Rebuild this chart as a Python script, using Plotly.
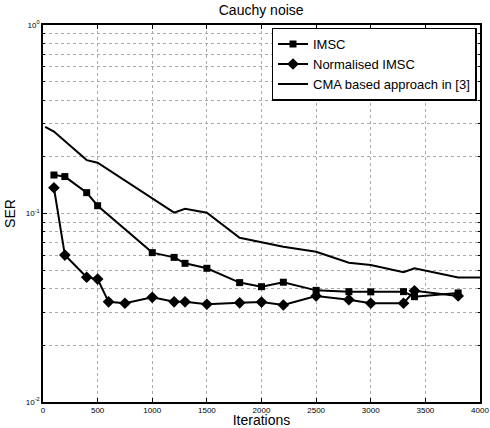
import plotly.graph_objects as go

imsc_x = [100, 200, 400, 500, 1000, 1200, 1300, 1500, 1800, 2000, 2200, 2500, 2800, 3000, 3300, 3400, 3800]
imsc_y = [0.160, 0.157, 0.129, 0.110, 0.0620, 0.0585, 0.0544, 0.0512, 0.0430, 0.0409, 0.0432, 0.0391, 0.0385, 0.0384, 0.0385, 0.0362, 0.0379]

nimsc_x = [100, 200, 400, 500, 600, 750, 1000, 1200, 1300, 1500, 1800, 2000, 2200, 2500, 2800, 3000, 3300, 3400, 3800]
nimsc_y = [0.137, 0.0602, 0.0459, 0.0449, 0.0340, 0.0334, 0.0359, 0.0340, 0.0340, 0.0330, 0.0336, 0.0339, 0.0327, 0.0365, 0.0349, 0.0334, 0.0334, 0.0389, 0.0365]

cma_x = [20, 100, 400, 500, 1200, 1300, 1500, 1800, 2000, 2200, 2500, 2800, 3000, 3300, 3400, 3800, 4000]
cma_y = [0.288, 0.272, 0.192, 0.186, 0.101, 0.106, 0.101, 0.0744, 0.0703, 0.0667, 0.0627, 0.0548, 0.0533, 0.0488, 0.0512, 0.0458, 0.0458]

x_ticks = [0, 500, 1000, 1500, 2000, 2500, 3000, 3500, 4000]
y_major = [0.01, 0.1, 1]
y_major_text = ["10<sup>-2</sup>", "10<sup>-1</sup>", "10<sup>0</sup>"]
y_minor = [m * 10 ** e for e in (-2, -1) for m in range(2, 10)]

fig = go.Figure()
fig.add_trace(go.Scatter(x=imsc_x, y=imsc_y, mode="lines+markers", name="IMSC",
                         line=dict(color="black", width=2),
                         marker=dict(symbol="square", size=7, color="black")))
fig.add_trace(go.Scatter(x=nimsc_x, y=nimsc_y, mode="lines+markers", name="Normalised IMSC",
                         line=dict(color="black", width=2),
                         marker=dict(symbol="diamond", size=9, color="black")))
fig.add_trace(go.Scatter(x=cma_x, y=cma_y, mode="lines", name="CMA based approach in [3]",
                         line=dict(color="black", width=2)))

fig.update_layout(
    width=490, height=428,
    margin=dict(l=43, r=10, t=25, b=26),
    paper_bgcolor="white", plot_bgcolor="white",
    font=dict(family="Liberation Sans, Arial, sans-serif", color="black"),
    title=dict(text="Cauchy noise", x=0.533, xanchor="center", y=0.977, yanchor="middle",
               font=dict(size=14), automargin=False),
    showlegend=True,
    legend=dict(x=0.992, xanchor="right", y=0.993, yanchor="top",
                bgcolor="white", bordercolor="black", borderwidth=1.5,
                font=dict(size=13), tracegroupgap=0, itemwidth=30,
                traceorder="normal"),
)
fig.update_xaxes(
    range=[0, 4000], tickvals=x_ticks, ticktext=[str(v) for v in x_ticks],
    showgrid=True, gridcolor="#aaaaaa", griddash="dot", gridwidth=1,
    showline=True, linecolor="black", linewidth=1.5, mirror="ticks",
    ticks="inside", ticklen=4, tickcolor="black",
    tickfont=dict(size=8), zeroline=False, automargin=False,
    title=dict(text="Iterations", font=dict(size=14), standoff=6),
)
fig.update_yaxes(
    type="log", range=[-2, 0], tickvals=y_major, ticktext=y_major_text,
    showgrid=True, gridcolor="#aaaaaa", griddash="dot", gridwidth=1,
    showline=True, linecolor="black", linewidth=1.5, mirror="ticks",
    ticks="inside", ticklen=4, tickcolor="black",
    minor=dict(tickmode="array", tickvals=y_minor, ticks="inside", ticklen=2,
               tickcolor="black", showgrid=True, gridcolor="#aaaaaa", griddash="dot", gridwidth=1),
    tickfont=dict(size=8), zeroline=False, automargin=False,
    title=dict(text="SER", font=dict(size=14), standoff=7),
)
fig.write_html("out.html", config={"displayModeBar": False},
               post_script="document.body.style.margin='0';document.body.style.padding='0';")
